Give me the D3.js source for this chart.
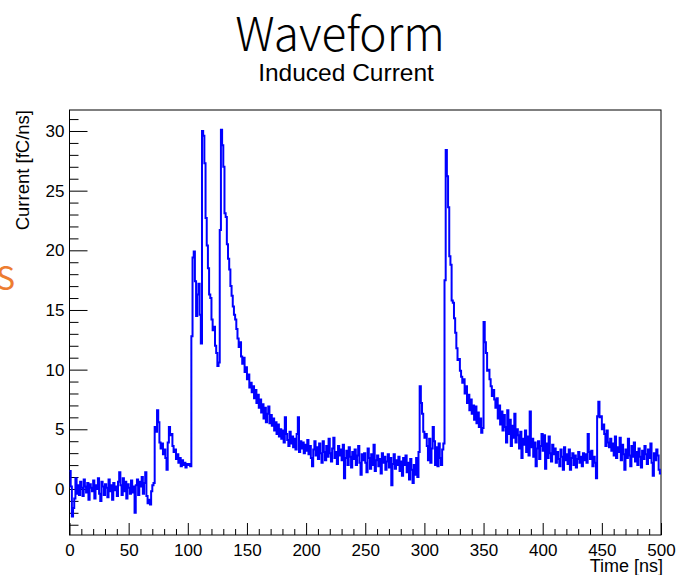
<!DOCTYPE html>
<html>
<head>
<meta charset="utf-8">
<script src="https://cdn.jsdelivr.net/npm/d3@7"></script>
<style>
  html, body { margin: 0; padding: 0; background: #fff; }
  svg { display: block; }
  .tick text { font-family: "Liberation Sans", Arial, sans-serif; font-size: 17px; fill: #000; }
  .tick line { stroke: #000; stroke-width: 1; }
</style>
</head>
<body>
<svg id="chart" width="679" height="575"></svg>
<script>
// Induced current waveform, one value per 1 ns bin (0 - 500 ns)
const current_0_99 = [
  1.5, 0.2, -2.3, -1.6, -0.8, 0.9, -0.4, 0.3, -0.5, 0.6,
  0.1, -0.6, 0.8, 0.2, -0.3, 0.5, -0.9, 0.4, 0.1, -0.2,
  0.7, -0.8, 0.3, 0.0, 0.9, -0.4, -1.0, 0.6, 0.2, -0.5,
  0.4, 0.1, -0.7, 0.8, -0.2, 0.3, -0.9, 0.5, -0.1, 0.2,
  -0.6, 0.6, 1.4, 0.3, -0.5, 0.9, -0.2, 0.6, -0.8, 0.4,
  0.1, -0.4, 0.7, -0.3, 0.2, -2.0, 0.3, 0.8, -0.5, 0.6,
  0.2, 1.0, -0.4, 0.5, 1.4, -0.6, -1.2, -0.9, -1.3, -0.2,
  0.3, 0.5, 5.2, 4.8, 6.6, 5.6, 3.9, 3.4, 3.8, 2.9,
  3.3, 2.6, 1.6, 3.9, 5.2, 4.5, 4.6, 3.6, 3.1, 3.3,
  2.5, 2.9, 2.2, 2.6, 1.9, 2.4, 2.0, 2.2, 1.8, 2.1
];
const current_100_199 = [
  2.0, 2.1, 1.9, 12.8, 19.4, 19.9, 17.4, 14.5, 16.3, 17.2,
  14.6, 12.2, 30.0, 29.6, 27.3, 22.7, 20.4, 18.5, 16.3, 16.0,
  14.2, 13.3, 13.6, 12.0, 11.4, 10.3, 10.6, 21.7, 30.1, 28.8,
  27.0, 23.1, 22.8, 20.5, 19.3, 18.4, 17.0, 16.2, 15.3, 14.6,
  14.2, 13.4, 12.6, 11.9, 12.3, 11.1, 10.5, 11.0, 9.8, 10.2,
  9.2, 9.6, 8.5, 8.9, 8.1, 8.6, 7.6, 8.3, 7.2, 7.9,
  6.8, 7.5, 6.4, 7.1, 5.9, 6.8, 5.6, 6.3, 6.9, 5.5,
  6.2, 5.3, 5.9, 4.9, 5.6, 4.6, 5.4, 4.4, 5.0, 4.2,
  4.9, 3.9, 6.0, 4.6, 4.1, 3.6, 4.8, 3.8, 4.4, 3.5,
  4.2, 3.3, 4.6, 6.0, 3.1, 4.0, 3.4, 3.9, 3.0, 3.7
];
const current_200_299 = [
  3.2, 4.1, 2.9, 3.6, 2.6, 1.9, 3.3, 4.0, 2.8, 3.5,
  2.5, 3.8, 3.0, 2.2, 4.0, 3.1, 2.4, 3.6, 2.7, 4.2,
  3.0, 2.3, 3.4, 4.3, 2.6, 3.1, 2.1, 3.6, 2.8, 3.3,
  2.4, 3.7, 0.9, 2.6, 3.2, 2.0, 3.5, 2.7, 1.8, 3.1,
  2.5, 3.3, 2.0, 2.8, 3.6, 2.2, 1.2, 2.9, 2.4, 3.0,
  2.2, 1.4, 3.4, 2.6, 1.7, 2.9, 2.0, 3.7, 1.5, 2.4,
  2.8, 1.9, 2.5, 1.3, 3.0, 2.2, 2.7, 1.6, 2.3, 2.9,
  1.8, 2.6, 0.3, 2.1, 2.9, 1.7, 2.4, 2.0, 2.7, 1.5,
  2.3, 1.1, 2.6, 2.0, 2.8, 1.4, 2.2, 0.8, 2.5, 1.6,
  0.5, 2.0, 1.2, 2.6, 1.0, 3.1, 8.6, 7.2, 6.3, 4.8
];
const current_300_399 = [
  4.3, 4.6, 3.6, 2.4, 4.2, 2.2, 3.4, 5.2, 4.0, 2.0,
  3.5, 1.9, 3.8, 2.6, 2.0, 3.3, 3.8, 17.5, 28.4, 26.2,
  23.6, 19.5, 18.8, 15.8, 15.6, 14.3, 13.1, 11.8, 10.8, 10.9,
  9.9, 9.4, 8.9, 9.2, 8.0, 8.6, 7.2, 7.9, 6.6, 7.5,
  6.3, 7.0, 5.8, 6.9, 5.5, 6.4, 5.2, 5.9, 4.7, 5.1,
  14.0, 12.3, 11.4, 9.9, 10.0, 9.2, 8.6, 7.8, 8.3, 7.5,
  6.8, 7.6, 5.9, 7.0, 5.4, 6.5, 4.9, 6.2, 5.2, 3.9,
  6.6, 4.6, 5.8, 3.6, 5.3, 4.3, 6.3, 3.9, 5.0, 4.5,
  3.4, 4.8, 2.6, 4.2, 3.7, 4.9, 3.1, 4.4, 2.8, 6.5,
  3.5, 4.2, 2.7, 3.9, 1.9, 3.4, 4.0, 2.5, 3.6, 4.6
];
const current_400_499 = [
  3.2, 4.5, 1.7, 3.8, 2.6, 4.4, 3.0, 2.3, 3.7, 2.9,
  3.4, 2.2, 3.1, 2.5, 1.9, 3.3, 2.7, 1.6, 3.5, 2.4,
  2.9, 2.1, 3.3, 1.6, 2.6, 3.0, 2.0, 2.8, 1.8, 2.5,
  3.1, 2.2, 2.7, 1.9, 3.0, 2.4, 2.9, 2.2, 4.6, 3.1,
  2.5, 3.2, 1.9, 2.7, 2.2, 0.9, 6.1, 7.3, 6.0, 6.1,
  5.0, 5.4, 4.6, 3.6, 4.9, 3.9, 3.5, 4.2, 3.2, 3.8,
  2.8, 4.4, 2.6, 3.5, 3.1, 4.3, 2.4, 3.7, 2.9, 1.6,
  3.3, 2.6, 4.2, 2.8, 1.9, 3.6, 2.7, 3.9, 2.3, 3.1,
  2.0, 3.4, 2.7, 1.8, 3.2, 2.5, 3.6, 2.9, 2.1, 3.3,
  2.6, 3.8, 2.2, 1.1, 3.0, 2.4, 3.3, 2.8, 1.6, 1.3
];

const binWidth = 1;          // ns per bin
const timeRange = [0, 500];  // ns
const currentRange = [-3.86, 31.76];
const xTickValues = [0, 50, 100, 150, 200, 250, 300, 350, 400, 450, 500];
const yTickValues = [0, 5, 10, 15, 20, 25, 30];

const current = [].concat(current_0_99, current_100_199, current_200_299,
                          current_300_399, current_400_499);

const svg = d3.select("#chart");
const frame = { left: 69.5, right: 661, top: 110, bottom: 535 };

const x = d3.scaleLinear().domain(timeRange).range([frame.left, frame.right]);
const y = d3.scaleLinear().domain(currentRange).range([frame.bottom, frame.top]);

// Title block
svg.append("text")
  .attr("x", 340).attr("y", 51)
  .attr("text-anchor", "middle")
  .style("font-family", "'Noto Sans CJK SC', 'Noto Sans', sans-serif")
  .style("font-weight", 300)
  .style("font-size", "46px")
  .text("Waveform");

svg.append("text")
  .attr("x", 346).attr("y", 81)
  .attr("text-anchor", "middle")
  .style("font-family", "'Liberation Sans', Arial, sans-serif")
  .style("font-size", "24.5px")
  .text("Induced Current");

// Stray slide text at the left edge
svg.append("text")
  .attr("x", -4).attr("y", 290)
  .style("font-family", "'Noto Sans CJK SC', 'Noto Sans', sans-serif")
  .style("font-size", "32px")
  .style("fill", "#ED7D31")
  .text("S");

// Frame
svg.append("rect")
  .attr("x", frame.left).attr("y", frame.top)
  .attr("width", frame.right - frame.left)
  .attr("height", frame.bottom - frame.top)
  .attr("fill", "none").attr("stroke", "#000").attr("stroke-width", 1);

// X axis: major ticks with labels, minor ticks every 10 ns
const xMajor = svg.append("g")
  .attr("transform", `translate(0,${frame.bottom})`)
  .call(d3.axisBottom(x).tickValues(xTickValues).tickSize(-12).tickPadding(9).tickFormat(d3.format("d")));
xMajor.select(".domain").remove();

const xMinor = svg.append("g")
  .attr("transform", `translate(0,${frame.bottom})`)
  .call(d3.axisBottom(x).tickValues(d3.range(0, 501, 10).filter(v => v % 50 !== 0)).tickSize(-6).tickFormat(""));
xMinor.select(".domain").remove();

// Y axis: major ticks with labels, minor ticks every 1 fC/ns
const yMajor = svg.append("g")
  .attr("transform", `translate(${frame.left},0)`)
  .call(d3.axisLeft(y).tickValues(yTickValues).tickSize(-18).tickPadding(5).tickFormat(d3.format("d")));
yMajor.select(".domain").remove();

const yMinor = svg.append("g")
  .attr("transform", `translate(${frame.left},0)`)
  .call(d3.axisLeft(y).tickValues(d3.range(-3, 32, 1).filter(v => v % 5 !== 0)).tickSize(-9).tickFormat(""));
yMinor.select(".domain").remove();

// Axis titles
svg.append("text")
  .attr("x", frame.right + 2).attr("y", 572)
  .attr("text-anchor", "end")
  .style("font-family", "'Liberation Sans', Arial, sans-serif")
  .style("font-size", "18px")
  .text("Time [ns]");

svg.append("text")
  .attr("transform", `translate(29,${frame.top}) rotate(-90)`)
  .attr("text-anchor", "end")
  .style("font-family", "'Liberation Sans', Arial, sans-serif")
  .style("font-size", "18.5px")
  .text("Current [fC/ns]");

// Histogram drawn as a step line through bin edges
const edges = current.map((v, i) => ({ t: timeRange[0] + i * binWidth, v }));
edges.push({ t: timeRange[0] + current.length * binWidth, v: current[current.length - 1] });

const step = d3.line()
  .x(d => x(d.t))
  .y(d => y(d.v))
  .curve(d3.curveStepAfter);

svg.append("path")
  .datum(edges)
  .attr("d", step)
  .attr("fill", "none")
  .attr("stroke", "#0000ff")
  .attr("stroke-width", 2)
  .attr("stroke-linejoin", "miter");
</script>
</body>
</html>
